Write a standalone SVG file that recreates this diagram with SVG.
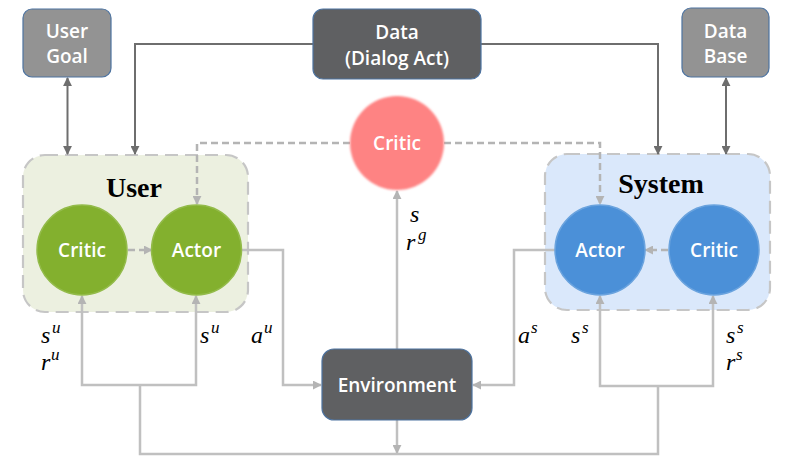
<svg xmlns="http://www.w3.org/2000/svg" width="800" height="463" viewBox="0 0 800 463">
<defs>
<style>
.box{stroke:#4d73a0;stroke-width:1.2}
.lbl{font-family:"Open Sans","Noto Sans",sans-serif;font-size:19px;font-weight:600;fill:#ffffff;text-anchor:middle}
.hd{font-family:"Liberation Serif","DejaVu Serif",serif;font-size:28px;font-weight:bold;fill:#000;text-anchor:middle}
.m{font-family:"Liberation Serif","DejaVu Serif",serif;font-style:italic;font-size:24px;fill:#000}
.sup{font-family:"Liberation Serif","DejaVu Serif",serif;font-style:italic;font-size:17px;fill:#000}
.dk{fill:none;stroke:#6e6e6e;stroke-width:2}
.lt{fill:none;stroke:#c0c0c0;stroke-width:2.5}
.ds{fill:none;stroke:#b4b4b4;stroke-width:2.5;stroke-dasharray:7 4}
.cont{stroke:#c6c6c6;stroke-width:2.2;stroke-dasharray:13 7}
</style>
<marker id="ad" viewBox="0 0 10 10" refX="9" refY="5" markerWidth="9" markerHeight="9" markerUnits="userSpaceOnUse" orient="auto-start-reverse"><path d="M0,0 L10,5 L0,10 z" fill="#6e6e6e"/></marker>
<marker id="al" viewBox="0 0 10 10" refX="9" refY="5" markerWidth="9" markerHeight="9" markerUnits="userSpaceOnUse" orient="auto-start-reverse"><path d="M0,0 L10,5 L0,10 z" fill="#b4b4b4"/></marker>
<filter id="soft" x="-10%" y="-10%" width="120%" height="120%"><feGaussianBlur stdDeviation="0.8"/></filter>
</defs>
<rect width="800" height="463" fill="#ffffff"/>

<g id="user">
<rect x="23" y="155" width="225" height="157" rx="22" fill="#ecf0e0" class="cont"/>
<text x="134" y="197" class="hd">User</text>
</g>
<g id="system">
<rect x="545" y="154" width="225" height="156" rx="22" fill="#dae8fb" class="cont"/>
<text x="661" y="193" class="hd">System</text>
</g>

<g id="connectors">
<path class="dk" d="M313,44 H135 V154" marker-end="url(#ad)"/>
<path class="dk" d="M481,44 H658 V154" marker-end="url(#ad)"/>
<path class="dk" d="M67.5,78 V154" marker-start="url(#ad)" marker-end="url(#ad)"/>
<path class="dk" d="M726,78 V154" marker-start="url(#ad)" marker-end="url(#ad)"/>
<path class="ds" d="M350,143 H197 V204" marker-end="url(#al)"/>
<path class="ds" d="M444,143 H600 V204" marker-end="url(#al)"/>
<path class="ds" d="M128,250 H152" marker-end="url(#al)"/>
<path class="ds" d="M668,250 H645" marker-end="url(#al)"/>
<path class="lt" d="M241,250 H283 V385 H321" marker-end="url(#al)"/>
<path class="lt" d="M555,250 H514 V385 H473" marker-end="url(#al)"/>
<path class="lt" d="M397,349 V191" marker-end="url(#al)"/>
<path class="lt" d="M397,420 V453" marker-end="url(#al)"/>
<path class="lt" d="M82,296 V385 H196 V296" marker-start="url(#al)" marker-end="url(#al)"/>
<path class="lt" d="M140,385 V454 H658 V386"/>
<path class="lt" d="M600,296 V386 H713 V296" marker-start="url(#al)" marker-end="url(#al)"/>
</g>

<g id="user-goal">
<rect x="23" y="9" width="88" height="68" rx="9" fill="#939393" class="box"/>
<text x="67" y="38" class="lbl">User</text>
<text x="67" y="63" class="lbl">Goal</text>
</g>
<g id="data">
<rect x="313" y="9" width="168" height="70" rx="10" fill="#5f6062" class="box"/>
<text x="397" y="39" class="lbl">Data</text>
<text x="397" y="65" class="lbl">(Dialog Act)</text>
</g>
<g id="data-base">
<rect x="682" y="8" width="87" height="69" rx="9" fill="#939393" class="box"/>
<text x="725.5" y="38" class="lbl">Data</text>
<text x="725.5" y="63" class="lbl">Base</text>
</g>
<g id="critic-global">
<circle cx="397" cy="143" r="47" fill="#fe8383" filter="url(#soft)"/>
<text x="397" y="150" class="lbl">Critic</text>
</g>
<g id="user-critic">
<circle cx="82" cy="250" r="45" fill="#83b02e" stroke="#93bb4a" stroke-width="1.5"/>
<text x="82" y="257" class="lbl">Critic</text>
</g>
<g id="user-actor">
<circle cx="196.5" cy="250" r="45" fill="#83b02e" stroke="#93bb4a" stroke-width="1.5"/>
<text x="196.5" y="257" class="lbl">Actor</text>
</g>
<g id="system-actor">
<circle cx="600" cy="250" r="45" fill="#4b90d8" stroke="#6aa3de" stroke-width="1.5"/>
<text x="600" y="257" class="lbl">Actor</text>
</g>
<g id="system-critic">
<circle cx="714" cy="250" r="45" fill="#4b90d8" stroke="#6aa3de" stroke-width="1.5"/>
<text x="714" y="257" class="lbl">Critic</text>
</g>
<g id="environment">
<rect x="322" y="349" width="150" height="71" rx="12" fill="#5f6062" class="box"/>
<text x="397" y="392" class="lbl">Environment</text>
</g>

<g id="labels">
<text x="41" y="343" class="m">s</text><text x="52" y="333" class="sup">u</text>
<text x="41" y="370" class="m">r</text><text x="51" y="360" class="sup">u</text>
<text x="200" y="343" class="m">s</text><text x="211" y="333" class="sup">u</text>
<text x="251" y="343" class="m">a</text><text x="264" y="333" class="sup">u</text>
<text x="518" y="343" class="m">a</text><text x="531" y="333" class="sup">s</text>
<text x="571" y="343" class="m">s</text><text x="582" y="333" class="sup">s</text>
<text x="726" y="343" class="m">s</text><text x="737" y="333" class="sup">s</text>
<text x="726" y="370" class="m">r</text><text x="736" y="360" class="sup">s</text>
<text x="410" y="222" class="m">s</text>
<text x="406" y="250" class="m">r</text><text x="418" y="240" class="sup">g</text>
</g>
</svg>
